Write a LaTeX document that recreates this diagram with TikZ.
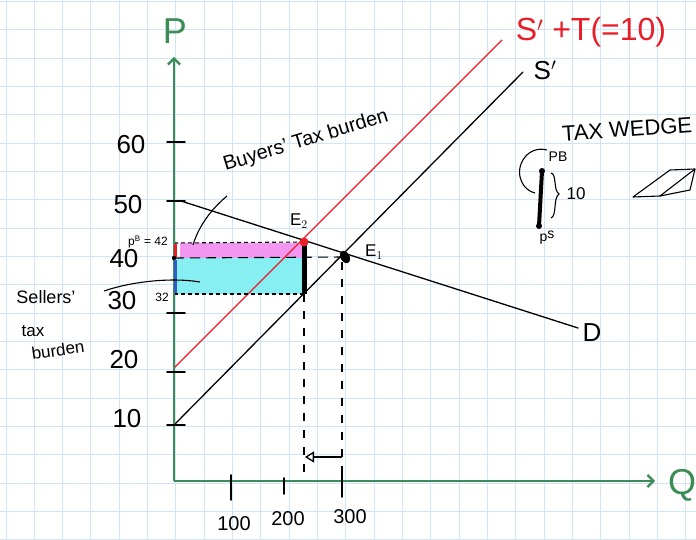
\documentclass[tikz,border=0pt]{standalone}
\usepackage{fontspec}
\setmainfont{Liberation Sans}
\usetikzlibrary{arrows.meta}
\definecolor{gridc}{RGB}{208,230,248}
\definecolor{axisg}{RGB}{60,140,85}
\definecolor{pinkf}{RGB}{242,150,242}
\definecolor{cyanf}{RGB}{135,238,242}
\definecolor{redl}{RGB}{232,30,40}
\definecolor{bluel}{RGB}{50,90,200}
\begin{document}
\begin{tikzpicture}[x=1pt,y=-1pt,
  axis/.style={axisg,line width=2.2pt},
  pen/.style={black,line width=1.3pt,line cap=round},
  tickmark/.style={black,line width=1.6pt,line cap=round},
  curveline/.style={black,line width=1.1pt},
  shortdash/.style={black,line width=1.1pt,dash pattern=on 4pt off 3pt},
  longdash/.style={black,line width=1.1pt,dash pattern=on 10pt off 6pt},
  vdash/.style={black,line width=1.1pt,dash pattern=on 8pt off 9pt},
  num/.style={inner sep=0pt,font=\fontsize{26}{28}\selectfont},
  qnum/.style={inner sep=0pt,font=\fontsize{20}{22}\selectfont},
  hand/.style={inner sep=0pt,font=\fontsize{17}{19}\selectfont},
  small/.style={inner sep=0pt,font=\fontsize{12}{14}\selectfont},
  big/.style={inner sep=0pt,font=\fontsize{36}{38}\selectfont}]
\useasboundingbox (0,0) rectangle (696,540);
\fill[white] (0,0) rectangle (696,540);
% grid
\foreach \i in {0,...,24} \draw[gridc,line width=1pt] ({6+28.33*\i},0) -- ({6+28.33*\i},540);
\foreach \j in {0,...,19} \draw[gridc,line width=1pt] (0,{1.5+28.33*\j}) -- (696,{1.5+28.33*\j});
% key coordinates
\coordinate (O) at (174,481);
\coordinate (Ptop) at (174,57);
\coordinate (Qend) at (655,481);
\coordinate (E2) at (304,242);
\coordinate (E1) at (345,257);
\coordinate (S0) at (174,425);
\coordinate (S1) at (523,72);
\coordinate (R0) at (174,368);
\coordinate (R1) at (502,40);
\coordinate (D0) at (181,201);
\coordinate (D1) at (578,328);
\coordinate (PB) at (174,243);
\coordinate (P40) at (174,258);
\coordinate (P32) at (174,294);
\coordinate (Q2) at (304,294);
\coordinate (Q2b) at (304,481);
\coordinate (Q3) at (342,262);
\coordinate (Q3b) at (342,481);
% shading
\fill[pinkf] (180,243) rectangle (304,258);
\fill[cyanf] (176,258) rectangle (304,294);
% curves
\draw[pen] (S0) -- (S1);
\draw[redl,line width=1.2pt] (R0) -- (R1);
\draw[pen] (D0) -- (D1);
% dashed lines
\draw[shortdash] (PB) -- (E2);
\draw[longdash] (P40) -- (E1);
\draw[shortdash] (P32) -- (Q2);
\draw[vdash] (Q2) -- (Q2b);
\draw[vdash] (Q3) -- (Q3b);
% axes
\draw[axis,-{Straight Barb[length=6pt,width=12pt]}] (O) -- (Ptop);
\draw[axis,-{Straight Barb[length=6pt,width=12pt]}] (O) -- (Qend);
\node[big,text=axisg] (Plbl) at (175,31) {P};
\node[big,text=axisg] (Qlbl) at (682,485) {Q};
% axis price segments
\draw[redl,line width=3pt] (175.5,244) -- (175.5,258);
\draw[bluel,line width=3pt] (175.5,260) -- (175.5,293);
\fill (P40) circle (2.2pt);
% ticks on P axis
\foreach \y in {142,201,313,372,425} \draw[tickmark] (167,\y) -- (185,\y);
% ticks on Q axis
\draw[tickmark] (231,475) -- (231,500);
\draw[tickmark] (284,478) -- (284,494);
\draw[tickmark] (342,471) -- (342,497);
% numbers P axis
\node[num] (n60) at (131,145) {60};
\node[num] (n50) at (128,205) {50};
\node[num] (n40) at (124,259) {40};
\node[num] (n30) at (122,301) {30};
\node[num] (n20) at (124,360) {20};
\node[num] (n10) at (127,419) {10};
\node[small] (pb42) at (148,242) {p$^{\mathrm{B}}$ = 42};
\node[small] (n32) at (162,297) {32};
% numbers Q axis
\node[qnum] (q100) at (234,524) {100};
\node[qnum] (q200) at (288,519) {200};
\node[qnum] (q300) at (350,517) {300};
% equilibrium points
\fill[black,rotate around={30:(E1)}] (E1) ellipse (4.5pt and 6.5pt);
\draw[black,line width=5pt] (E2) -- (Q2);
\fill[redl] (E2) circle (4.5pt);
\node[hand] (E2lbl) at (299,221) {E$_2$};
\node[hand] (E1lbl) at (374,252) {E$_1$};
% shift arrow
\coordinate (A0) at (342,457);
\coordinate (A1) at (305,457);
\draw[black,line width=1.3pt,-{Triangle[open,length=9pt,width=11pt]}] (A0) -- (A1);
% curve labels
\node[inner sep=0pt,text=redl,font=\fontsize{32}{34}\selectfont] (STlbl) at (591,32) {S$'$ +T(=10)};
\node[inner sep=0pt,font=\fontsize{26}{28}\selectfont] (Slbl) at (545,70) {S$'$};
\node[inner sep=0pt,font=\fontsize{26}{28}\selectfont] (Dlbl) at (592,333) {D};
% tax burden labels
\node[inner sep=0pt,font=\fontsize{20}{22}\selectfont,rotate=17] (buy) at (306,141) {Buyers' Tax burden};
\draw[curveline] (227,196) .. controls (210,210) and (198,228) .. (193,245);
\node[hand,font=\fontsize{18}{20}\selectfont] (sel1) at (46,297) {Sellers'};
\node[hand] (sel2) at (33,331) {tax};
\node[hand,rotate=8] (sel3) at (58,350) {burden};
\draw[curveline] (104,291) .. controls (130,282) and (170,277) .. (200,282);
% tax wedge
\node[inner sep=0pt,font=\fontsize{22}{24}\selectfont,rotate=4] (tw) at (627,129) {TAX WEDGE};
\coordinate (W1) at (542,171);
\coordinate (W2) at (539,226);
\draw[black,line width=4pt] (W1) -- (W2);
\fill (W1) circle (3pt);
\fill (W2) circle (3pt);
\node[small,font=\fontsize{14}{16}\selectfont] (pBw) at (558,157) {PB};
\node[small,font=\fontsize{14}{16}\selectfont] (pSw) at (547,238) {p\raisebox{3pt}{s}};
\node[hand] (ten) at (576,194) {10};
\draw[curveline] (551,173) .. controls (557,174) and (553,190) .. (559,194) .. controls (553,198) and (557,216) .. (551,218);
\draw[curveline] (547,150) .. controls (528,145) and (515,165) .. (521,180) .. controls (524,188) and (530,192) .. (535,193);
\draw[curveline,line join=round] (633,197) -- (670,170) -- (695,169) -- (690,190) -- (660,196) -- cycle;
\draw[curveline] (660,196) -- (695,169);
\end{tikzpicture}
\end{document}
